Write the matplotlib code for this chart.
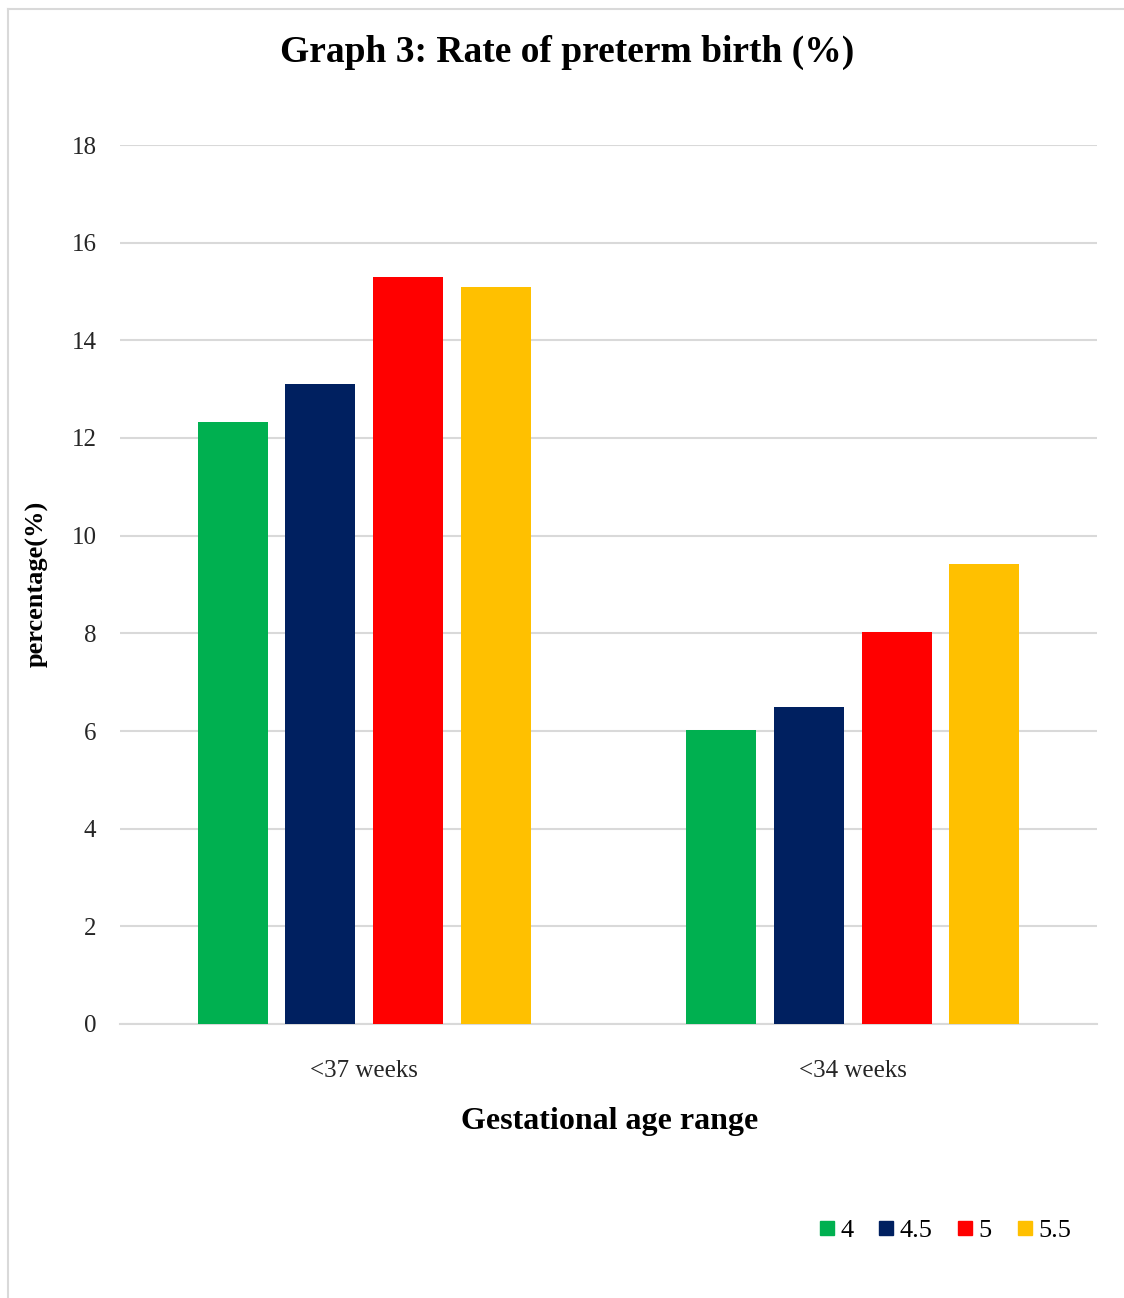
import matplotlib
matplotlib.use("Agg")
import matplotlib.pyplot as plt
from matplotlib.lines import Line2D
import numpy as np

categories = ["<37 weeks", "<34 weeks"]
series_labels = ["4", "4.5", "5", "5.5"]
series_values = [
    [12.33, 6.03],
    [13.1, 6.5],
    [15.3, 8.03],
    [15.1, 9.42],
]
colors = ["#00b050", "#002060", "#ff0000", "#ffc000"]
yticks = [0, 2, 4, 6, 8, 10, 12, 14, 16, 18]

plt.rcParams["font.family"] = ["Liberation Serif", "DejaVu Serif"]

W, H = 1124, 1298
fig = plt.figure(figsize=(W / 100, H / 100), dpi=100)
ax = fig.add_axes([120 / W, 1 - 1024 / H, 977 / W, 879 / H])

x = np.arange(len(categories))
width = 70 / 490
pitch = 88 / 490
offsets = (np.arange(len(series_labels)) - 1.5) * pitch
for vals, off, col, lab in zip(series_values, offsets, colors, series_labels):
    ax.bar(x + off, vals, width=width, color=col, label=lab, zorder=3)

ax.set_xlim(-0.5, 1.5)
ax.set_ylim(0, 18)
ax.set_yticks(yticks)
ax.set_xticks(x)
ax.set_xticklabels(categories)
ax.tick_params(axis="both", length=0, labelsize=18, colors="#262626")
ax.tick_params(axis="y", pad=17)
ax.tick_params(axis="x", pad=26)
ax.grid(axis="y", color="#d9d9d9", linewidth=1.5, zorder=0)
for side in ["top", "right", "left"]:
    ax.spines[side].set_visible(False)
ax.spines["bottom"].set_color("#d9d9d9")
ax.spines["bottom"].set_linewidth(1.5)

fig.text(567 / W, 1 - 52 / H, "Graph 3: Rate of preterm birth (%)",
         ha="center", va="center", fontsize=27, fontweight="bold")
fig.text(37 / W, 1 - 584 / H, "percentage(%)", rotation=90,
         ha="center", va="center", fontsize=19, fontweight="bold")
fig.text(610 / W, 1 - 1122 / H, "Gestational age range",
         ha="center", va="center", fontsize=23, fontweight="bold")

handles = [Line2D([], [], marker="s", linestyle="none", markersize=10,
                  markerfacecolor=c, markeredgecolor=c) for c in colors]
fig.legend(handles, series_labels, loc="center right",
           bbox_to_anchor=(1084 / W, 1 - 1230 / H), ncol=4, frameon=False,
           fontsize=19, handletextpad=0.15, columnspacing=0.9,
           handlelength=0.7, borderpad=0)

# light frame around the chart area
fig.add_artist(Line2D([8 / W, 8 / W], [0, 1 - 9 / H], transform=fig.transFigure,
                      color="#d9d9d9", linewidth=1.5))
fig.add_artist(Line2D([8 / W, 1], [1 - 9 / H, 1 - 9 / H], transform=fig.transFigure,
                      color="#d9d9d9", linewidth=1.5))

fig.savefig("out.png", dpi=100)
